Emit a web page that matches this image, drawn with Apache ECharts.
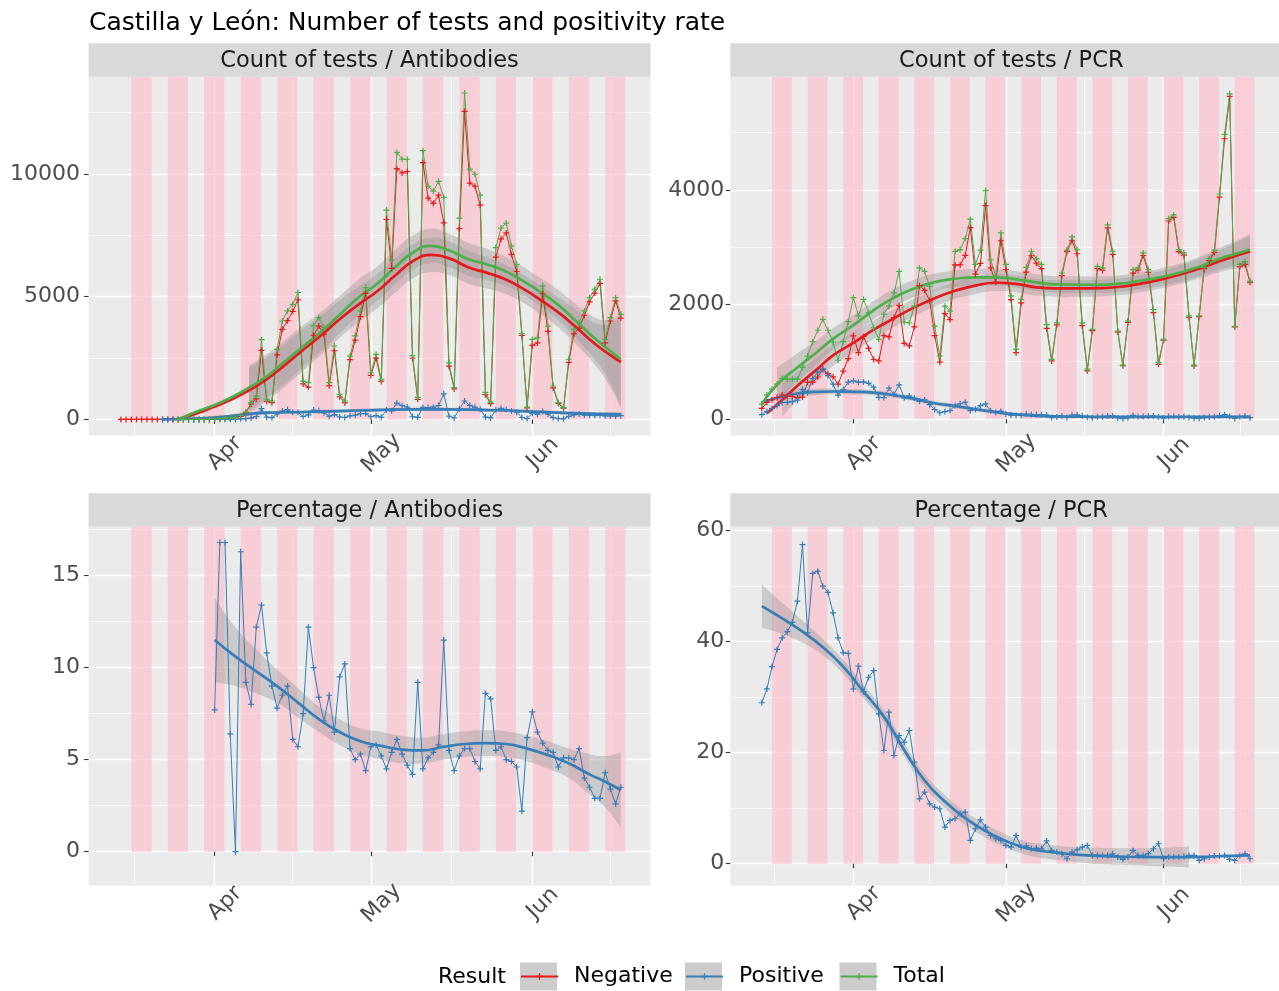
<!DOCTYPE html>
<html>
<head>
<meta charset="utf-8">
<script src="https://cdn.jsdelivr.net/npm/echarts@6.0.0/dist/echarts.min.js"></script>
<style>
html,body{margin:0;padding:0;background:#ffffff;}
#chart{width:1279px;height:991px;}
</style>
</head>
<body>
<div id="chart"></div>
<script>
// ---------------- DATA ----------------
// day index 0 = 2020-03-14, one value per day (null = no data)
const firstDay = '2020-03-14';
const monthTicks = ['2020-04-01', '2020-05-01', '2020-06-01'];
const monthLabels = ['Apr', 'May', 'Jun'];
const minorMonthTicks = ['2020-03-16 12', '2020-04-16 00', '2020-05-16 12', '2020-06-16 00'];
// weekly pink bands (start dates)
const pinkStarts = ['2020-03-16','2020-03-23','2020-03-30','2020-04-06','2020-04-13','2020-04-20','2020-04-27',
  '2020-05-04','2020-05-11','2020-05-18','2020-05-25','2020-06-01','2020-06-08','2020-06-15'];

const resultNames = ['Negative', 'Positive', 'Total'];
const facetTitles = ['Count of tests / Antibodies', 'Count of tests / PCR', 'Percentage / Antibodies', 'Percentage / PCR'];

// y-axis tick labels per panel
const yTicksAbCount = [0, 5000, 10000];
const yTicksPcrCount = [0, 2000, 4000];
const yTicksAbPct = [0, 5, 10, 15];
const yTicksPcrPct = [0, 20, 40, 60];

// Antibodies – counts
const abNegative = [0,0,0,0,0,0,0,0,0,0,0,0,0,0,0,0,0,0,
  24,25,35,56,70,126,272,626,834,2815,731,682,2628,3669,4022,4404,4875,1443,1317,3429,3801,3474,1372,2796,923,
  673,2436,3230,4186,5134,1792,2496,1545,8146,6152,10216,10041,10102,2492,817,10462,9015,8802,9135,8009,
  2173,1243,7775,12551,9629,9500,8729,1005,642,6612,7355,7600,6724,6027,3423,469,3012,3115,5119,3589,
  1287,649,456,2325,3486,3718,4243,4788,5146,5544,3120,4010,4829,4130];
const abPositive = [null,null,null,null,null,null,null,null,0,0,0,0,0,0,0,0,0,0,
  2,5,7,4,0,24,28,54,116,435,89,68,222,341,398,286,295,117,183,381,349,266,128,194,97,
  77,144,170,234,236,108,154,85,384,348,664,559,498,108,83,488,485,498,565,1041,
  127,57,425,749,571,490,411,95,58,388,445,400,346,293,77,31,248,215,321,211,
  73,31,24,125,184,222,177,172,154,166,140,140,131,150];
const abTotal = [null,null,null,null,null,null,null,null,null,null,null,0,0,0,0,0,0,0,
  26,30,42,60,70,150,300,680,950,3250,820,750,2850,4010,4420,4690,5170,1560,1500,3810,4150,3740,1500,2990,1020,
  750,2580,3400,4420,5370,1900,2650,1630,8530,6500,10880,10600,10600,2600,900,10950,9500,9300,9700,9050,
  2300,1300,8200,13300,10200,9990,9140,1100,700,7000,7800,8000,7070,6320,3500,500,3260,3330,5440,3800,
  1360,680,480,2450,3670,3940,4420,4960,5300,5710,3260,4150,4960,4280];
// Antibodies – positivity %
const abPct = [null,null,null,null,null,null,null,null,null,null,null,null,null,null,null,null,null,null,
  7.7,16.8,16.8,6.4,0,16.3,9.2,8.0,12.2,13.4,10.8,9.0,7.8,8.5,9.0,6.1,5.7,7.5,12.2,10.0,8.4,7.1,8.5,6.5,9.5,
  10.2,5.6,5.0,5.3,4.4,5.7,5.8,5.2,4.5,5.4,6.1,5.3,4.7,4.2,9.2,4.5,5.1,5.4,5.8,11.5,
  5.5,4.4,5.2,5.6,5.6,4.9,4.5,8.6,8.3,5.5,5.7,5.0,4.9,4.6,2.2,6.2,7.6,6.5,5.9,5.5,
  5.4,4.6,5.1,5.1,5.0,5.6,4.0,3.5,2.9,2.9,4.3,3.4,2.6,3.5];

// PCR – counts
const pcrNegative = [185,288,335,375,419,405,393,367,382,642,644,733,870,792,737,608,837,1056,1452,1159,
  1442,1232,1039,1015,1457,1433,1773,1984,1320,1278,1610,2329,2247,2069,1457,992,1841,1737,2691,2691,
  2857,3343,2530,2717,3727,2638,2387,3113,2611,2085,1158,2027,2565,2851,2722,2627,1582,1015,1645,2504,
  2923,3113,2886,1630,841,1542,2627,2600,3339,2877,1518,932,1689,2547,2600,2856,2563,1858,954,1377,
  3458,3522,2924,2862,1773,926,1789,2626,2766,2909,3875,4895,5635,1610,2659,2700,2388];
const pcrPositive = [75,132,185,235,288,291,303,329,518,458,706,817,870,758,608,418,513,644,668,641,
  648,623,555,376,373,538,430,596,370,403,361,309,333,250,166,109,130,147,237,266,
  293,147,170,233,263,142,113,137,89,65,62,63,85,79,78,73,68,25,35,46,
  27,67,74,50,29,23,40,40,51,53,18,8,21,63,40,44,47,52,36,13,
  42,43,36,38,27,14,11,24,34,41,55,75,45,10,41,50,22];
const pcrTotal = [260,420,520,610,707,696,696,696,900,1100,1350,1550,1740,1550,1345,1026,1350,1700,2120,1800,
  2090,1855,1594,1391,1830,1971,2203,2580,1690,1681,1971,2638,2580,2319,1623,1101,1971,1884,2928,2957,
  3150,3490,2700,2950,3990,2780,2500,3250,2700,2150,1220,2090,2650,2930,2800,2700,1650,1040,1680,2550,
  2950,3180,2960,1680,870,1565,2667,2640,3390,2930,1536,940,1710,2610,2640,2900,2610,1910,990,1390,
  3500,3565,2960,2900,1800,940,1800,2650,2800,2950,3930,4970,5680,1620,2700,2750,2410];
// PCR – positivity %
const pcrPct = [29.0,31.5,35.5,38.6,40.7,41.8,43.5,47.3,57.5,41.6,52.3,52.7,50.0,48.9,45.2,40.7,38.0,37.9,31.5,35.6,
  31.0,33.6,34.8,27.0,20.4,27.3,19.5,23.1,21.9,24.0,18.3,11.7,12.9,10.8,10.2,9.9,6.6,7.8,8.1,9.0,
  9.3,4.2,6.3,7.9,6.6,5.1,4.5,4.2,3.3,3.0,5.1,3.0,3.2,2.7,2.8,2.7,4.1,2.4,2.1,1.8,
  0.9,2.1,2.5,3.0,3.3,1.5,1.5,1.5,1.5,1.8,1.2,0.8,1.2,2.4,1.5,1.5,1.8,2.7,3.6,0.9,
  1.2,1.2,1.2,1.3,1.5,1.5,0.6,0.9,1.2,1.4,1.4,1.5,0.8,0.6,1.5,1.8,0.9];

// Smoothed (loess) curves: day offsets, fit, lower and upper bounds
const abSmDays = [11,14,17.5,21.1,24.6,28.1,31.6,35.1,38.6,42.1,45.6,49.1,52.6,56.1,59.6,63.2,66.7,70.2,73.7,77.2,80.7,84.2,87.7,91.2,94,96];
const abTotalFit = [0,272,544,884,1292,1768,2380,2992,3604,4284,4964,5508,6188,6800,7072,6868,6528,6324,6052,5644,5168,4624,3944,3264,2788,2448];
const abNegFit = [0,200,480,800,1180,1650,2230,2850,3450,4100,4680,5200,5850,6450,6700,6550,6200,5980,5720,5330,4850,4330,3700,3050,2620,2330];
const abBandDays = [24.6,28.1,31.6,35.1,38.6,42.1,45.6,49.1,52.6,56.1,59.6,63.2,66.7,70.2,73.7,77.2,80.7,84.2,87.7,91.2,94,96];
const abTotalLo = [372,868,1500,2142,2804,3524,4244,4808,5488,6100,6372,6178,5858,5684,5452,5074,4588,4004,3244,2394,1488,548];
const abTotalHi = [2212,2668,3260,3842,4404,5044,5684,6208,6888,7500,7772,7558,7198,6964,6652,6214,5748,5244,4644,4134,4088,4348];
const abNegLo = [260,750,1350,2000,2650,3340,3960,4500,5150,5750,6000,5860,5530,5340,5120,4760,4270,3710,3000,2180,1320,430];
const abNegHi = [2100,2550,3110,3700,4250,4860,5400,5900,6550,7150,7400,7240,6870,6620,6320,5900,5430,4950,4400,3920,3920,4230];
const abPosSmDays = [8,14,21,28,35,42,49,56,63,70,77,84,91,96];
const abPosFit = [0,30,136,272,300,340,381,408,408,381,340,272,230,204];
const abPosBandDays = [21,28,35,42,49,56,63,70,77,84,91,96];
const abPosLo = [66,202,230,270,311,338,338,311,270,202,160,104];
const abPosHi = [206,342,370,410,451,478,478,451,410,342,300,304];

const pcrTotSmDays = [0,3,7,11,14,18,22,26,30,34,38,42,46,50,54,58,62,66,70,74,78,82,86,90,93,96];
const pcrTotalFit = [260,600,900,1180,1400,1640,1900,2120,2280,2390,2450,2475,2475,2440,2385,2350,2345,2345,2360,2410,2470,2550,2660,2800,2880,2960];
const pcrTotBandDays = [3,7,11,14,18,22,26,30,34,38,42,46,50,54,58,62,66,70,74,78,82,86,90,93,96];
const pcrTotalLo = [300,650,975,1215,1470,1740,1965,2130,2240,2305,2330,2330,2295,2240,2205,2200,2200,2215,2265,2320,2390,2490,2610,2660,2690];
const pcrTotalHi = [900,1150,1385,1585,1810,2060,2275,2430,2540,2595,2620,2620,2585,2530,2495,2490,2490,2505,2555,2620,2710,2830,2990,3100,3230];
const pcrNegSmDays = [1,4,7,11,14,18,22,26,30,34,38,42,46,50,54,58,62,66,70,74,78,82,86,90,93,96];
const pcrNegFit = [100,330,580,880,1110,1330,1560,1760,1950,2110,2240,2330,2380,2360,2300,2280,2280,2285,2305,2355,2425,2515,2625,2755,2845,2925];
const pcrNegBandDays = [4,7,11,14,18,22,26,30,34,38,42,46,50,54,58,62,66,70,74,78,82,86,90,93,96];
const pcrNegLo = [40,330,675,925,1160,1400,1605,1800,1960,2095,2185,2235,2215,2155,2135,2135,2140,2160,2210,2275,2355,2455,2565,2625,2655];
const pcrNegHi = [620,830,1085,1295,1500,1720,1915,2100,2260,2385,2475,2525,2505,2445,2425,2425,2430,2450,2500,2575,2675,2795,2945,3065,3195];
const pcrPosSmDays = [0,3,7,11,14,18,22,26,30,34,38,42,46,50,54,58,62,70,80,90,96];
const pcrPosFit = [290,370,445,475,480,475,462,415,350,275,225,170,120,80,55,45,40,38,38,38,38];
const pcrPosBandDays = [3,7,11,14,18,22,26,30,34,38,42,46,50,54,58,62,70,80,90,96];
const pcrPosLo = [290,380,420,430,427,416,371,308,235,187,135,88,52,30,23,20,18,18,16,10];
const pcrPosHi = [450,510,530,530,523,508,459,392,315,263,205,152,108,80,67,60,58,58,60,66];

const abPctSmDays = [18,22,26,30,34,38,42,46,50,54,58,62,66,70,74,78,82,86,90,93,96];
const abPctFit = [11.5,10.6,9.8,9.0,8.1,7.2,6.5,6.0,5.75,5.55,5.5,5.7,5.85,5.9,5.85,5.6,5.25,4.8,4.2,3.8,3.35];
const abPctLo = [9.2,9.0,8.6,8.1,7.3,6.5,5.8,5.3,5.0,4.8,4.8,5.0,5.15,5.2,5.15,4.9,4.5,4.0,3.1,2.4,1.3];
const abPctHi = [13.8,12.2,11.0,9.9,8.9,7.9,7.2,6.7,6.5,6.3,6.2,6.4,6.55,6.6,6.55,6.3,6.0,5.6,5.3,5.2,5.4];

const pcrPctSmDays = [0,4,8,12,16,20,24,28,32,36,40,44,48,52,56,60,64,70,76,82,88,92,96];
const pcrPctFit = [46.4,44.2,41.8,39.0,35.5,31.0,26.5,20.5,15.0,11.2,8.2,5.9,4.1,2.8,2.2,1.8,1.5,1.3,1.2,1.2,1.3,1.4,1.5];
const pcrPctBandDays = [0,4,8,12,16,20,24,28,32,36,40,44,48,52,56,60,64,70,76,82,84];
const pcrPctLo = [42.5,41.4,39.8,37.5,34.2,29.8,25.3,19.3,13.8,10.0,7.0,4.7,2.9,1.6,0.9,0.5,0.1,-0.2,-0.4,-0.6,-0.7];
const pcrPctHi = [50.3,47.0,43.8,40.5,36.8,32.2,27.7,21.7,16.2,12.4,9.4,7.1,5.3,4.0,3.5,3.1,2.9,2.8,2.8,3.0,3.1];

// ---------------- STYLE / LAYOUT ----------------
const FONT = '"DejaVu Sans", "Liberation Sans", sans-serif';
const COLORS = {Negative: '#E41A1C', Positive: '#377EB8', Total: '#4DAF4A'};
const PLUS = 'path://M4,0H6V4H10V6H6V10H4V6H0V4H4Z';
const DAY = 86400000;
const BAND_FILL = 'rgba(153,153,153,0.4)';

function parseDay(s) {
  const p = s.split(/[- ]/).map(Number);
  return new Date(p[0], p[1] - 1, p[2], p[3] || 0).getTime();
}
const base = parseDay(firstDay);
function ts(d) {
  const whole = Math.floor(d);
  const b = new Date(base);
  return new Date(b.getFullYear(), b.getMonth(), b.getDate() + whole).getTime() + (d - whole) * DAY;
}
const xMin = ts(-6.2), xMax = ts(101.7);
const monthTickTs = monthTicks.map(parseDay);
const minorXTs = minorMonthTicks.map(parseDay);

const panels = [
  {left: 88.6, top: 76.7, yMin: -665, yMax: 13965, split: 3, ticks: yTicksAbCount, margin: 8.5},
  {left: 730.3, top: 76.7, yMin: -292, yMax: 5979, split: 3, ticks: yTicksPcrCount, margin: 6},
  {left: 88.6, top: 526.7, yMin: -1.85, yMax: 17.66, split: 4, ticks: yTicksAbPct, margin: 8.5},
  {left: 730.3, top: 526.7, yMin: -3.96, yMax: 60.72, split: 3, ticks: yTicksPcrPct, margin: 6}
];
const PW = 561.9, PH = 359, STRIP = 33.4;

const grids = panels.map(p => ({left: p.left, top: p.top, width: PW, height: PH, show: true,
  backgroundColor: '#EBEBEB', borderWidth: 0, containLabel: false}));

const xAxes = panels.map((p, g) => ({
  type: 'value', gridIndex: g, min: xMin, max: xMax,
  axisLine: {show: false},
  axisTick: {show: true, length: 4.5, lineStyle: {color: '#333333', width: 1.1}, customValues: monthTickTs},
  axisLabel: {customValues: monthTickTs,
    formatter: v => { const i = monthTickTs.indexOf(v); return i >= 0 ? monthLabels[i] : ''; },
    rotate: 45, align: 'center', verticalAlign: 'top', padding: [4, 0, 0, 0], margin: 7,
    color: '#4D4D4D', fontSize: 22, fontFamily: FONT},
  splitLine: {show: true, lineStyle: {color: '#FFFFFF', width: 1.4}}
}));

const yAxes = panels.map((p, g) => ({
  type: 'value', gridIndex: g, min: p.yMin, max: p.yMax, splitNumber: p.split,
  axisLine: {show: false},
  axisTick: {show: true, length: 4.5, lineStyle: {color: '#333333', width: 1.1}, customValues: p.ticks},
  axisLabel: {customValues: p.ticks, formatter: v => String(v), color: '#4D4D4D',
    fontSize: 22, fontFamily: FONT, margin: p.margin},
  splitLine: {show: true, lineStyle: {color: '#FFFFFF', width: 1.4}},
  minorTick: {show: false, splitNumber: 2},
  minorSplitLine: {show: true, lineStyle: {color: '#FFFFFF', width: 0.7}}
}));

function lineData(values) {
  const out = [];
  values.forEach((v, i) => { if (v !== null && v !== undefined) out.push([ts(i), v]); });
  return out;
}
function pts(days, vals) { return days.map((d, i) => [ts(d), vals[i]]); }

// Bezier control points for a smooth edge through pixel points (same idea as ECharts' smooth line)
function controlPoints(p, s) {
  const n = p.length, cin = [], cout = [];
  for (let i = 0; i < n; i++) {
    if (i === 0 || i === n - 1) { cin[i] = p[i]; cout[i] = p[i]; continue; }
    const prev = p[i - 1], cur = p[i], next = p[i + 1];
    const vx = next[0] - prev[0], vy = next[1] - prev[1];
    const lp = Math.hypot(cur[0] - prev[0], cur[1] - prev[1]);
    const ln = Math.hypot(next[0] - cur[0], next[1] - cur[1]);
    const r = (lp + ln) > 0 ? ln / (lp + ln) : 0.5;
    cout[i] = [cur[0] + vx * s * r, cur[1] + vy * s * r];
    cin[i] = [cur[0] - vx * s * (1 - r), cur[1] - vy * s * (1 - r)];
  }
  return {cin, cout};
}
function f(v) { return v.toFixed(2); }
function bandPath(up, lo) {
  const cu = controlPoints(up, 0.5), cl = controlPoints(lo, 0.5);
  const n = up.length;
  let d = 'M' + f(up[0][0]) + ',' + f(up[0][1]);
  for (let i = 0; i < n - 1; i++) {
    d += 'C' + f(cu.cout[i][0]) + ',' + f(cu.cout[i][1]) + ',' + f(cu.cin[i + 1][0]) + ',' + f(cu.cin[i + 1][1]) +
      ',' + f(up[i + 1][0]) + ',' + f(up[i + 1][1]);
  }
  d += 'L' + f(lo[n - 1][0]) + ',' + f(lo[n - 1][1]);
  for (let i = n - 1; i > 0; i--) {
    d += 'C' + f(cl.cin[i][0]) + ',' + f(cl.cin[i][1]) + ',' + f(cl.cout[i - 1][0]) + ',' + f(cl.cout[i - 1][1]) +
      ',' + f(lo[i - 1][0]) + ',' + f(lo[i - 1][1]);
  }
  return d + 'Z';
}

function decor(g) {
  return {
    type: 'line', name: 'decor' + g, xAxisIndex: g, yAxisIndex: g, silent: true, z: 1,
    data: [[ts(0), 0]], showSymbol: false, symbol: 'none', lineStyle: {opacity: 0, width: 0},
    markLine: {silent: true, z: 0.5, symbol: ['none', 'none'], label: {show: false}, animation: false,
      lineStyle: {color: '#FFFFFF', width: 0.7, type: 'solid'}, emphasis: {disabled: true},
      data: minorXTs.map(v => ({xAxis: v}))},
    markArea: {silent: true, z: 1, animation: false, itemStyle: {color: 'rgba(255,192,203,0.66)'},
      emphasis: {disabled: true}, label: {show: false},
      data: pinkStarts.map(s => [{xAxis: parseDay(s), yAxis: 0}, {xAxis: parseDay(s) + 3.9 * DAY, yAxis: panels[g].yMax}])}
  };
}
function dataLine(name, values, g) {
  return {type: 'line', name, xAxisIndex: g, yAxisIndex: g, data: lineData(values),
    symbol: PLUS, symbolSize: 6, showSymbol: true, showAllSymbol: true,
    lineStyle: {color: COLORS[name], width: 1}, itemStyle: {color: COLORS[name]},
    z: 2, silent: true, emphasis: {disabled: true}};
}
function band(key, days, lo, hi, g) {
  return {
    type: 'custom', name: key + ' band', xAxisIndex: g, yAxisIndex: g, silent: true, z: 2, clip: true,
    data: days.map((d, i) => [ts(d), lo[i], hi[i]]),
    encode: {x: 0, y: [1, 2]},
    renderItem: (params, api) => {
      if (params.dataIndex !== 0) return null;
      const up = days.map((d, i) => api.coord([ts(d), hi[i]]));
      const dn = days.map((d, i) => api.coord([ts(d), lo[i]]));
      return {type: 'path', shape: {pathData: bandPath(up, dn)}, style: {fill: BAND_FILL, stroke: null}};
    }
  };
}
function fitLine(name, days, vals, g) {
  return {type: 'line', name: name + ' fit', xAxisIndex: g, yAxisIndex: g, data: pts(days, vals),
    smooth: true, symbol: 'none', showSymbol: false, silent: true, z: 2, emphasis: {disabled: true},
    lineStyle: {color: COLORS[name], width: 2.7}};
}

const series = [
  decor(0), decor(1), decor(2), decor(3),
  // Antibodies counts
  dataLine('Negative', abNegative, 0), dataLine('Positive', abPositive, 0), dataLine('Total', abTotal, 0),
  band('abNeg', abBandDays, abNegLo, abNegHi, 0), fitLine('Negative', abSmDays, abNegFit, 0),
  band('abPos', abPosBandDays, abPosLo, abPosHi, 0), fitLine('Positive', abPosSmDays, abPosFit, 0),
  band('abTot', abBandDays, abTotalLo, abTotalHi, 0), fitLine('Total', abSmDays, abTotalFit, 0),
  // PCR counts
  dataLine('Negative', pcrNegative, 1), dataLine('Positive', pcrPositive, 1), dataLine('Total', pcrTotal, 1),
  band('pcrNeg', pcrNegBandDays, pcrNegLo, pcrNegHi, 1), fitLine('Negative', pcrNegSmDays, pcrNegFit, 1),
  band('pcrPos', pcrPosBandDays, pcrPosLo, pcrPosHi, 1), fitLine('Positive', pcrPosSmDays, pcrPosFit, 1),
  band('pcrTot', pcrTotBandDays, pcrTotalLo, pcrTotalHi, 1), fitLine('Total', pcrTotSmDays, pcrTotalFit, 1),
  // Antibodies %
  dataLine('Positive', abPct, 2),
  band('abPct', abPctSmDays, abPctLo, abPctHi, 2), fitLine('Positive', abPctSmDays, abPctFit, 2),
  // PCR %
  dataLine('Positive', pcrPct, 3),
  band('pcrPct', pcrPctBandDays, pcrPctLo, pcrPctHi, 3), fitLine('Positive', pcrPctSmDays, pcrPctFit, 3)
];

// strips
const graphics = [];
panels.forEach((p, g) => {
  graphics.push({type: 'rect', z: 10, silent: true,
    shape: {x: p.left, y: p.top - STRIP, width: PW, height: STRIP}, style: {fill: '#D9D9D9'}});
  graphics.push({type: 'text', z: 11, silent: true,
    style: {text: facetTitles[g], x: p.left + PW / 2, y: p.top - STRIP / 2 + 1,
      align: 'center', verticalAlign: 'middle', textAlign: 'center', textVerticalAlign: 'middle',
      fontSize: 22.5, fontFamily: FONT, fill: '#1A1A1A'}});
});
// legend title and key backgrounds
const legendLefts = [520, 685, 839.5];
graphics.push({type: 'text', z: 11, silent: true,
  style: {text: 'Result', x: 438, y: 977, align: 'left', verticalAlign: 'middle',
    textAlign: 'left', textVerticalAlign: 'middle', fontSize: 22, fontFamily: FONT, fill: '#000000'}});
legendLefts.forEach(x => graphics.push({type: 'rect', z: 1, silent: true,
  shape: {x: x, y: 962.5, width: 37, height: 28}, style: {fill: '#CCCCCC'}}));

const legends = resultNames.map((n, i) => ({
  data: [n], left: legendLefts[i], top: 964.5, orient: 'horizontal', padding: 0, itemGap: 0,
  itemWidth: 37, itemHeight: 8, selectedMode: false, z: 5,
  textStyle: {fontSize: 22, fontFamily: FONT, color: '#000000', padding: [0, 0, 0, 11], lineHeight: 24}
}));

const option = {
  animation: false,
  backgroundColor: '#FFFFFF',
  title: {text: 'Castilla y León: Number of tests and positivity rate', left: 89, top: 9, padding: 0,
    textStyle: {fontSize: 25, fontWeight: 'normal', fontFamily: FONT, color: '#000000', lineHeight: 28}},
  grid: grids,
  xAxis: xAxes,
  yAxis: yAxes,
  legend: legends,
  graphic: {elements: graphics},
  series: series
};

const chart = echarts.init(document.getElementById('chart'), null, {renderer: 'canvas'});
chart.setOption(option);
</script>
</body>
</html>
